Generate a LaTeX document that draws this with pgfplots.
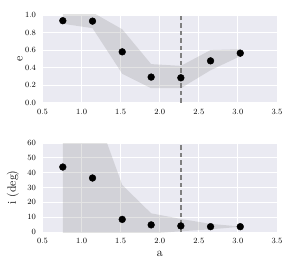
\documentclass[border=0pt]{standalone}
\usepackage{pgfplots}
\pgfplotsset{compat=1.18}
\definecolor{bgcol}{HTML}{EAEAF2}
\pgfplotsset{
  sns/.style={
    scale only axis,
    width=234.5pt,
    xmin=0.5, xmax=3.5,
    xtick={0.5,1.0,...,3.5},
    axis background/.style={fill=bgcol},
    axis line style={draw=none},
    grid=major,
    major grid style={white, line width=0.9pt},
    tick style={draw=none},
    tick label style={font=\fontsize{8}{9}\selectfont},
    xticklabel style={yshift=-3pt,/pgf/number format/.cd,fixed,fixed zerofill,precision=1},
    yticklabel style={xshift=-3pt},
    label style={font=\fontsize{12}{14}\selectfont},
    clip=true,
  },
  band/.style={draw=none, fill=gray, fill opacity=0.22},
  dots/.style={only marks, mark=*, mark size=3.4pt, black},
  vline/.style={gray, line width=1.4pt, dash pattern=on 4.5pt off 3pt},
}
\begin{document}
\begin{tikzpicture}[x=1pt,y=1pt]
\path[use as bounding box] (0,0) rectangle (299,-275);
\begin{axis}[sns, at={(42.5pt,-102.7pt)}, anchor=south west, height=87.7pt,
  ymin=0, ymax=1, ytick={0,0.2,...,1.0},
  yticklabel style={/pgf/number format/.cd,fixed,fixed zerofill,precision=1},
  ylabel={e}, ylabel style={at={(axis description cs:-0.096,0.5)}, anchor=center}]
\addplot[band] coordinates {(0.76,1.03) (1.14,1.03) (1.52,0.837) (1.89,0.44) (2.27,0.42) (2.65,0.60) (3.03,0.61)
 (3.03,0.53) (2.65,0.37) (2.27,0.165) (1.89,0.165) (1.52,0.33) (1.14,0.85) (0.76,0.90)} -- cycle;
\addplot[vline] coordinates {(2.27,0) (2.27,1)};
\addplot[dots] coordinates {(0.76,0.935) (1.14,0.93) (1.52,0.58) (1.89,0.292) (2.27,0.284) (2.65,0.477) (3.03,0.565)};
\end{axis}
\begin{axis}[sns, at={(42.5pt,-232pt)}, anchor=south west, height=89pt,
  ymin=0, ymax=60, ytick={0,10,...,60},
  ylabel={i (deg)}, ylabel style={at={(axis description cs:-0.126,0.5)}, anchor=center},
  xlabel={a}, xlabel style={at={(axis description cs:0.5,-0.21)}, anchor=north, inner sep=0pt}]
\addplot[band] coordinates {(0.76,95) (1.14,87) (1.52,31.7) (1.89,12.6) (2.27,8.8) (2.65,5.5) (3.03,3.7)
 (3.03,3.5) (2.65,1.8) (2.27,0.5) (1.89,-1) (1.52,-1) (1.14,-1) (0.76,-1)} -- cycle;
\addplot[vline] coordinates {(2.27,0) (2.27,60)};
\addplot[dots] coordinates {(0.76,43.8) (1.14,36.4) (1.52,8.5) (1.89,4.8) (2.27,4.1) (2.65,3.6) (3.03,3.6)};
\end{axis}
\end{tikzpicture}
\end{document}
